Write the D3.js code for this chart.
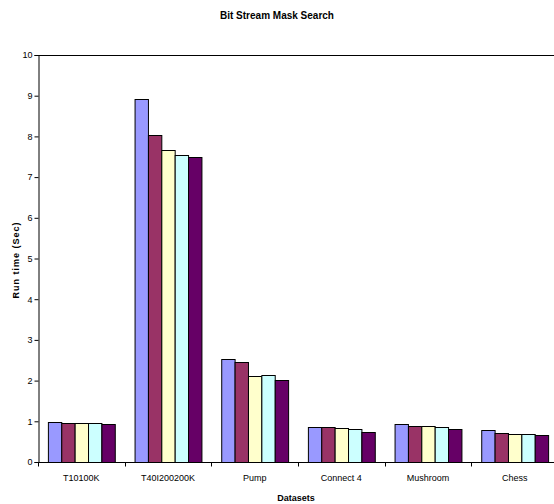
<!DOCTYPE html>
<html>
<head>
<meta charset="utf-8">
<script src="https://cdn.jsdelivr.net/npm/d3@7"></script>
<style>
  html, body { margin: 0; padding: 0; background: #fff; }
  svg { display: block; }
  text { font-family: "Liberation Sans", Arial, sans-serif; fill: #000; }
</style>
</head>
<body>
<svg id="chart" width="554" height="504"></svg>
<script>
// Run times (seconds) per dataset, one array per configuration
const categories = ["T10100K", "T40I200200K", "Pump", "Connect 4", "Mushroom", "Chess"];
const series1 = [0.98, 8.92, 2.52, 0.85, 0.93, 0.79];
const series2 = [0.97, 8.03, 2.45, 0.85, 0.89, 0.72];
const series3 = [0.97, 7.67, 2.11, 0.83, 0.89, 0.70];
const series4 = [0.96, 7.55, 2.13, 0.81, 0.87, 0.70];
const series5 = [0.94, 7.49, 2.01, 0.73, 0.82, 0.67];
const seriesColors = ["#9999FF", "#993366", "#FFFFCC", "#CCFFFF", "#660066"];
const yTicks = [0, 1, 2, 3, 4, 5, 6, 7, 8, 9, 10];

const allSeries = [series1, series2, series3, series4, series5];

const svg = d3.select("#chart");
const plotLeft = 38, plotRight = 558, plotTop = 55, plotBottom = 462;

const x = d3.scaleBand().domain(categories).range([plotLeft, plotRight]).paddingInner(0).paddingOuter(0);
const xInner = d3.scaleBand().domain(d3.range(allSeries.length)).range([0, x.bandwidth()]).paddingInner(0).paddingOuter(0.74);
const y = d3.scaleLinear().domain([0, 10]).range([plotBottom, plotTop]);

// Top frame line
svg.append("line")
  .attr("x1", plotLeft).attr("x2", plotRight)
  .attr("y1", y(10) + 0.5).attr("y2", y(10) + 0.5)
  .attr("stroke", "#000").attr("stroke-width", 1);

// Bars
const groups = svg.append("g").selectAll("g")
  .data(categories)
  .join("g")
  .attr("transform", d => `translate(${x(d)},0)`);

groups.selectAll("rect")
  .data((c, i) => allSeries.map((s, k) => ({ k, v: s[i] })))
  .join("rect")
  .attr("x", d => xInner(d.k) + 0.5)
  .attr("width", xInner.bandwidth())
  .attr("y", d => Math.round(y(d.v)) + 0.5)
  .attr("height", d => plotBottom - Math.round(y(d.v)))
  .attr("fill", d => seriesColors[d.k])
  .attr("stroke", "#000")
  .attr("stroke-width", 1);

// Y axis
const yAxis = svg.append("g")
  .attr("transform", `translate(${plotLeft + 0.5},0)`)
  .call(d3.axisLeft(y).tickValues(yTicks).tickFormat(d3.format("d")).tickSize(4).tickPadding(2));
yAxis.select(".domain").attr("stroke", "#000");
yAxis.selectAll("text").attr("font-size", 9).style("font-family", "Liberation Sans, Arial, sans-serif");

// X axis with ticks at category boundaries
const xAxisG = svg.append("g").attr("transform", `translate(0,${plotBottom + 0.5})`);
xAxisG.append("line").attr("x1", plotLeft).attr("x2", plotRight).attr("stroke", "#000");
xAxisG.selectAll("line.tick")
  .data(categories.concat([null]))
  .join("line")
  .attr("class", "tick")
  .attr("x1", (d, i) => Math.round(plotLeft + i * x.step()) + 0.5)
  .attr("x2", (d, i) => Math.round(plotLeft + i * x.step()) + 0.5)
  .attr("y1", 0).attr("y2", 4)
  .attr("stroke", "#000");
xAxisG.selectAll("text")
  .data(categories)
  .join("text")
  .attr("x", d => x(d) + x.bandwidth() / 2)
  .attr("y", 18)
  .attr("text-anchor", "middle")
  .attr("font-size", 9)
  .text(d => d);

// Titles
svg.append("text")
  .attr("x", 277).attr("y", 19)
  .attr("text-anchor", "middle")
  .attr("font-size", 10).attr("font-weight", "bold")
  .text("Bit Stream Mask Search");

svg.append("text")
  .attr("x", 296).attr("y", 501)
  .attr("text-anchor", "middle")
  .attr("font-size", 9).attr("font-weight", "bold")
  .text("Datasets");

svg.append("text")
  .attr("transform", `translate(19,260) rotate(-90)`)
  .attr("text-anchor", "middle")
  .attr("font-size", 9).attr("font-weight", "bold")
  .attr("letter-spacing", 1)
  .text("Run time (Sec)");
</script>
</body>
</html>
